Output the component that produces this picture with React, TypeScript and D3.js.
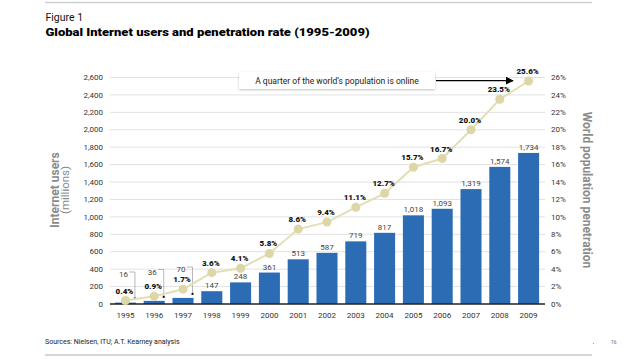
import React from "react";
import * as d3 from "d3";

const years = ["1995","1996","1997","1998","1999","2000","2001","2002","2003","2004","2005","2006","2007","2008","2009"];
const users = [16, 36, 70, 147, 248, 361, 513, 587, 719, 817, 1018, 1093, 1319, 1574, 1734];
const penetration = [0.4, 0.9, 1.7, 3.6, 4.1, 5.8, 8.6, 9.4, 11.1, 12.7, 15.7, 16.7, 20.0, 23.5, 25.6];
const leftTicks = [0, 200, 400, 600, 800, 1000, 1200, 1400, 1600, 1800, 2000, 2200, 2400, 2600];
const rightTicks = [0, 2, 4, 6, 8, 10, 12, 14, 16, 18, 20, 22, 24, 26];
const calloutCount = 3;

const W = 638, H = 359;
const FONT = "Roboto, 'Liberation Sans', sans-serif";

export default function App() {
  const x = d3.scaleBand<string>().domain(years).range([111, 543]).paddingInner(0.27).paddingOuter(0.135);
  const y = d3.scaleLinear().domain([0, 2600]).range([304, 77.5]);
  const yp = d3.scaleLinear().domain([0, 26]).range([304, 77.5]);
  const fmt = d3.format(",");
  const bw = x.bandwidth();
  const cx = (yr: string) => (x(yr) as number) + bw / 2;
  const line = d3.line<number>().x((_, i) => cx(years[i])).y((v) => yp(v));

  return (
    <svg width={W} height={H} style={{ position: "absolute", left: 0, top: 0, background: "#fff" }} fontFamily={FONT}>
      <defs>
        <marker id="arr" viewBox="0 0 10 10" refX="9" refY="5" markerWidth="6" markerHeight="6" orient="auto">
          <path d="M0,0 L10,5 L0,10 z" fill="#000" />
        </marker>
        <filter id="sh" x="-10%" y="-40%" width="120%" height="180%">
          <feDropShadow dx="0" dy="1" stdDeviation="1.2" floodColor="#000" floodOpacity="0.25" />
        </filter>
      </defs>
      {/* frame lines */}
      <line x1={45} x2={592} y1={2.5} y2={2.5} stroke="#cfcfcf" strokeWidth={1.5} />
      <line x1={45} x2={592} y1={355} y2={355} stroke="#d6d6d6" strokeWidth={2} />

      {/* titles */}
      <text x={45.5} y={20.5} fontSize={10.5} fill="#111">Figure 1</text>
      <text x={45.5} y={36} fontSize={11} fontWeight={900} fill="#000" textLength={324} lengthAdjust="spacingAndGlyphs">Global Internet users and penetration rate (1995-2009)</text>

      {/* grid */}
      {leftTicks.map((t) => (
        <g key={t}>
          {t > 0 && <line x1={110} x2={545} y1={y(t)} y2={y(t)} stroke="#e2e2e2" strokeWidth={1} />}
          <text x={103} y={y(t)} dy="0.33em" textAnchor="end" fontSize={8} fill="#333">{fmt(t)}</text>
        </g>
      ))}
      {rightTicks.map((t) => (
        <text key={t} x={551} y={yp(t)} dy="0.33em" textAnchor="start" fontSize={8} fill="#333">{t + "%"}</text>
      ))}

      {/* bars */}
      {users.map((v, i) => (
        <rect key={years[i]} x={x(years[i])} y={y(v)} width={bw} height={y(0) - y(v)} fill="#2c6cb5" />
      ))}
      <line x1={110} x2={545} y1={y(0)} y2={y(0)} stroke="#222" strokeWidth={1.6} />

      {/* bar labels */}
      {users.map((v, i) => {
        if (i < calloutCount) {
          const lx = cx(years[i]) - 2;
          const vx = (x(years[i]) as number) + bw - 1;
          const base = 277 - i * 2.5;
          return (
            <g key={"bl" + i}>
              <text x={lx} y={base} textAnchor="middle" fontSize={8} fill="#444">{fmt(v)}</text>
              <polyline points={`${lx + 6},${base - 5} ${vx},${base - 5} ${vx},${y(v) - 4}`} fill="none" stroke="#999" strokeWidth={0.7} />
              <rect x={vx - 1} y={y(v) - 5} width={2} height={2} fill="#111" />
            </g>
          );
        }
        return (
          <text key={"bl" + i} x={cx(years[i])} y={y(v) - 3} textAnchor="middle" fontSize={8} fill="#444">{fmt(v)}</text>
        );
      })}

      {/* line */}
      <path d={line(penetration) || ""} fill="none" stroke="#e4deb6" strokeWidth={2} />
      {penetration.map((v, i) => (
        <circle key={"c" + i} cx={cx(years[i])} cy={yp(v)} r={4.5} fill="#ddd6a6" />
      ))}
      {penetration.map((v, i) => (
        <text key={"pl" + i} x={cx(years[i]) - 1} y={yp(v) - 7} textAnchor="middle" fontSize={8} fontWeight={900} fill="#111">{v.toFixed(1) + "%"}</text>
      ))}

      {/* x labels */}
      {years.map((yr) => (
        <text key={yr} x={cx(yr)} y={318} textAnchor="middle" fontSize={8} fill="#333">{yr}</text>
      ))}

      {/* axis titles */}
      <text transform="translate(59,190) rotate(-90)" textAnchor="middle" fontSize={12} fontWeight={700} fill="#8a8a8a">Internet users</text>
      <text transform="translate(69,190) rotate(-90)" textAnchor="middle" fontSize={11.5} fill="#8a8a8a">(millions)</text>
      <text transform="translate(583,190) rotate(90)" textAnchor="middle" fontSize={12} fontWeight={700} fill="#8a8a8a">World population penetration</text>

      {/* annotation */}
      <rect x={239} y={72} width={196} height={17} fill="#fff" filter="url(#sh)" />
      <text x={337} y={83.5} textAnchor="middle" fontSize={8.5} fill="#222">A quarter of the world’s population is online</text>
      <line x1={436} x2={513} y1={80.7} y2={80.7} stroke="#000" strokeWidth={1.3} markerEnd="url(#arr)" />

      {/* footer */}
      <text x={45} y={344} fontSize={7} fill="#222">Sources: Nielsen, ITU; A.T. Kearney analysis</text>
      <text x={611} y={344} fontSize={5} fill="#666">16</text>
      <rect x={593} y={343} width={1} height={1} fill="#999" />
    </svg>
  );
}
